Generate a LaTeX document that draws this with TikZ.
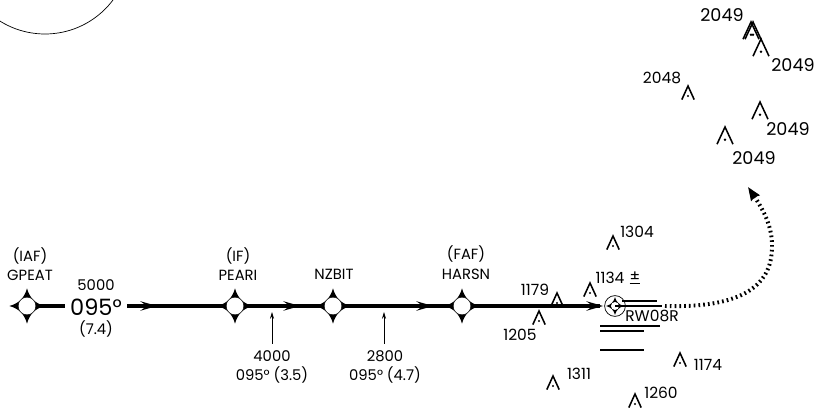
\documentclass[tikz,border=0pt]{standalone}
\usepackage{fontspec}
\setmainfont{Poppins}
\usetikzlibrary{arrows.meta}
\begin{document}
\begin{tikzpicture}[x=0.025cm,y=-0.025cm]
	\tikzset{
		lbl/.style = {inner sep=0pt, font=\fontsize{10.5}{12}\selectfont},
		lblsmall/.style = {inner sep=0pt, font=\fontsize{11}{13}\selectfont},
		lblbig/.style = {inner sep=0pt, font=\fontsize{12.5}{14}\selectfont},
		fixnode/.style = {shape=circle, fill=white, draw, line width=0.3pt, minimum size=0.44cm, inner sep=0pt},
		route/.style = {line width=2.3pt},
		runway/.style = {line width=1.4pt},
		fixstar/.pic = {\fill (-0.44cm,0) .. controls (-0.2cm,-0.068cm) and (-0.068cm,-0.2cm) .. (0,-0.44cm) .. controls (0.068cm,-0.2cm) and (0.2cm,-0.068cm) .. (0.44cm,0) .. controls (0.2cm,0.068cm) and (0.068cm,0.2cm) .. (0,0.44cm) .. controls (-0.068cm,0.2cm) and (-0.2cm,0.068cm) .. (-0.44cm,0) -- cycle;},
		routehead/.pic = {\fill (0,0) -- (-0.42cm,0.12cm) -- (-0.25cm,0) -- (-0.42cm,-0.12cm) -- cycle;},
		obst/.pic = {\draw[line width=1.1pt] (-0.155cm,-0.34cm) -- (0,0) -- (0.155cm,-0.34cm); \fill (0,-0.25cm) circle (0.03cm);},
		obstbig/.pic = {\draw[line width=1.1pt] (-0.2cm,-0.43cm) -- (0,0) -- (0.2cm,-0.43cm); \fill (0,-0.32cm) circle (0.035cm);}
	}
	\useasboundingbox (0,0) rectangle (820,411);

	\begin{scope}
		\clip (0,0) rectangle (820,411);
		\draw[line width=0.5pt] (45,-51) circle [radius=85];
	\end{scope}

	\pic at (27,306) {fixstar};
	\pic at (235,306) {fixstar};
	\pic at (333,306) {fixstar};
	\pic at (462,306) {fixstar};

	\node[lbl] (L_1a) at (30,256) {(IAF)};
	\node[lbl] (L_1b) at (30,275) {GPEAT};
	\node[lbl] (L_2a) at (238,256) {(IF)};
	\node[lbl] (L_2b) at (238,275) {PEARI};
	\node[lbl] (L_3) at (334,274) {NZBIT};
	\node[lbl] (L_4a) at (466,254) {(FAF)};
	\node[lbl] (L_4b) at (466,274) {HARSN};

	\node[lbl] (C_1) at (96,285) {5000};
	\node[inner sep=0pt, font=\fontsize{16}{18}\selectfont] (C_2) at (96,307) {095°};
	\node[lbl] (C_3) at (96,329) {(7.4)};

	\coordinate (R_0) at (65,306);
	\coordinate (R_1) at (127,306);
	\coordinate (R_5) at (600,306);
	\draw[route] (27,306) -- (R_0);
	\draw[route] (R_1) -- (R_5);
	\pic at (157,306) {routehead};
	\pic at (300,306) {routehead};
	\pic at (433,306) {routehead};
	\pic at (603,306) {routehead};

	\node[fixnode] (F_1) at (27,306) {};
	\node[fixnode] (F_2) at (235,306) {};
	\node[fixnode] (F_3) at (333,306) {};
	\node[fixnode] (F_4) at (462,306) {};

	\node[lbl] (A_1a) at (272,356) {4000};
	\node[lbl] (A_1b) at (272,375) {095° (3.5)};
	\node[lbl] (A_2a) at (385,356) {2800};
	\node[lbl] (A_2b) at (385,375) {095° (4.7)};
	\coordinate (T_1) at (272,312);
	\coordinate (T_2) at (384,312);
	\draw[line width=0.5pt, -{Stealth[length=0.17cm,width=0.1cm]}] (272,344) -- (T_1);
	\draw[line width=0.5pt, -{Stealth[length=0.17cm,width=0.1cm]}] (384,344) -- (T_2);

	\node[shape=circle, draw, line width=0.5pt, minimum size=0.52cm, inner sep=0pt] (W_0) at (615,306) {};
	\pic[scale=0.5] at (615,306) {fixstar};
	\node[shape=circle, fill=white, minimum size=0.2cm, inner sep=0pt] (W_1) at (615,306) {};
	\draw[runway] (622,301) -- (657,301);
	\draw[runway] (W_1.center) -- (662,306);
	\draw[runway] (600,326) -- (660,326);
	\draw[runway] (600,331) -- (644,331);
	\draw[runway] (600,350) -- (644,350);
	\node[lblsmall] (W_2) at (652,316) {RW08R};

	\coordinate (D_1) at (665,306);
	\coordinate (D_2) at (748,187);
	\draw[line width=2.8pt, dash pattern=on 1.2pt off 2.2pt, -{Stealth[length=0.33cm,width=0.25cm,inset=0.03cm]}] (D_1) .. controls (735,308) and (773,290) .. (772,245) .. controls (772,225) and (762,208) .. (D_2);

	\pic at (613,236) {obst};
	\node[lblsmall] (O_1) at (637,232) {1304};
	\pic at (557,293) {obst};
	\node[lblsmall] (O_2) at (535,290) {1179};
	\pic at (590,283) {obst};
	\node[lblsmall] (O_3) at (610,278) {1134};
	\node[lblsmall] (O_3b) at (635,278) {\underline{±}};
	\pic at (539,311) {obst};
	\node[lblsmall] (O_4) at (520,335) {1205};
	\pic at (680,353) {obst};
	\node[lblsmall] (O_5) at (708,365) {1174};
	\pic at (553,376) {obst};
	\node[lblsmall] (O_6) at (579,374) {1311};
	\pic at (635,394) {obst};
	\node[lblsmall] (O_7) at (661,393) {1260};

	\pic at (688,86) {obst};
	\node[lblsmall] (O_8) at (662,78) {2048};
	\pic at (751,22) {obstbig};
	\pic at (753,22) {obstbig};
	\pic at (761,39) {obstbig};
	\pic at (760,102) {obstbig};
	\pic at (725,127) {obstbig};
	\node[lblbig] (O_9) at (722,15) {2049};
	\node[lblbig] (O_10) at (793,65) {2049};
	\node[lblbig] (O_11) at (788,129) {2049};
	\node[lblbig] (O_12) at (754,158) {2049};

\end{tikzpicture}
\end{document}
